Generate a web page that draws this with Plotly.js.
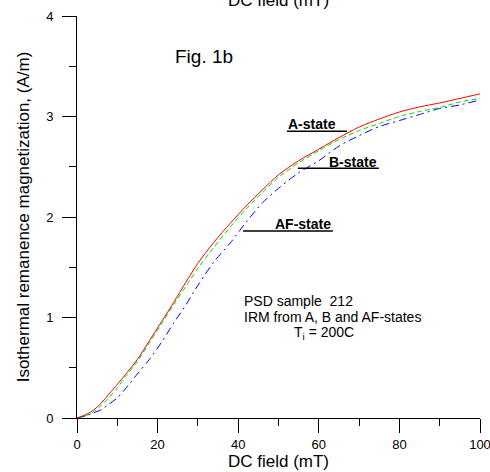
<!DOCTYPE html>
<html>
<head>
<meta charset="utf-8">
<script src="https://cdn.plot.ly/plotly-3.0.1.min.js"></script>
<style>html,body{margin:0;padding:0;background:#fff;}#chart{width:490px;height:472px;}</style>
</head>
<body>
<div id="chart"></div>
<script>
// DC field (mT)
const fieldA = [0, 2, 4, 6, 8, 10, 12, 15, 18, 21, 24, 27, 30, 34, 38, 42, 46, 50, 55, 60, 65, 70, 75, 80, 85, 90, 95, 100];
const irmA   = [0, 0.03, 0.075, 0.149, 0.24, 0.335, 0.431, 0.584, 0.771, 0.96, 1.15, 1.35, 1.54, 1.75, 1.936, 2.11, 2.27, 2.42, 2.56, 2.675, 2.79, 2.895, 2.975, 3.045, 3.095, 3.135, 3.18, 3.225];
const fieldB = [0, 2, 4, 6, 8, 10, 12, 15, 18, 21, 24, 27, 30, 34, 38, 42, 46, 50, 55, 60, 65, 70, 75, 80, 85, 90, 95, 100];
const irmB   = [0, 0.02, 0.06, 0.125, 0.205, 0.3, 0.41, 0.565, 0.75, 0.94, 1.13, 1.31, 1.49, 1.70, 1.9, 2.08, 2.245, 2.395, 2.54, 2.66, 2.77, 2.86, 2.93, 3.0, 3.05, 3.09, 3.145, 3.18];
const fieldAF = [0, 2, 4, 6, 8, 10, 12, 15, 18, 21, 24, 27, 30, 34, 38, 42, 46, 50, 55, 60, 65, 70, 75, 80, 85, 90, 95, 100];
const irmAF   = [0, 0.02, 0.05, 0.082, 0.14, 0.2, 0.29, 0.44, 0.585, 0.755, 0.945, 1.125, 1.32, 1.555, 1.74, 1.95, 2.14, 2.285, 2.44, 2.56, 2.705, 2.81, 2.9, 2.96, 3.02, 3.08, 3.115, 3.165];

const xTickVals = [0, 20, 40, 60, 80, 100];
const xTickText = ['0', '20', '40', '60', '80', '100'];
const yTickVals = [0, 1, 2, 3, 4];
const yTickText = ['0', '1', '2', '3', '4'];

const FONT = 'Arial, "Liberation Sans", sans-serif';

const traces = [
  {x: fieldAF, y: irmAF, mode: 'lines', name: 'AF-state',
   line: {color: '#0000ff', width: 1, dash: '8px,4px,2px,4px', shape: 'spline', smoothing: 0.8}},
  {x: fieldB, y: irmB, mode: 'lines', name: 'B-state',
   line: {color: '#00e000', width: 1, dash: '5px,3px', shape: 'spline', smoothing: 0.8}},
  {x: fieldA, y: irmA, mode: 'lines', name: 'A-state',
   line: {color: '#ff0000', width: 1, shape: 'spline', smoothing: 0.8}}
];

const layout = {
  width: 490, height: 472,
  margin: {l: 77, r: 10, t: 16, b: 54, pad: 0},
  paper_bgcolor: '#fff', plot_bgcolor: '#fff',
  showlegend: false,
  font: {family: FONT, color: '#000', size: 13},
  xaxis: {
    range: [0, 100], tickvals: xTickVals, ticktext: xTickText,
    ticks: 'outside', ticklen: 14, tickwidth: 1, tickcolor: '#000',
    minor: {dtick: 10, tick0: 0, ticks: 'outside', ticklen: 7, tickwidth: 1, tickcolor: '#000', showgrid: false},
    showline: true, linecolor: '#000', linewidth: 1, showgrid: false, zeroline: false,
    ticklabeloverflow: 'allow',
    tickfont: {size: 13, family: FONT},
    title: {text: 'DC field (mT)', font: {size: 17, family: FONT}, standoff: 4}
  },
  yaxis: {
    range: [0, 4], tickvals: yTickVals, ticktext: yTickText,
    ticks: 'outside', ticklen: 14, tickwidth: 1, tickcolor: '#000',
    minor: {dtick: 0.5, tick0: 0, ticks: 'outside', ticklen: 7, tickwidth: 1, tickcolor: '#000', showgrid: false},
    showline: true, linecolor: '#000', linewidth: 1, showgrid: false, zeroline: false,
    ticklabelstandoff: 6,
    tickfont: {size: 13, family: FONT},
    title: {text: 'Isothermal remanence magnetization, (A/m)', font: {size: 17, family: FONT}, standoff: 12}
  },
  annotations: [
    {xref: 'paper', yref: 'paper', x: 0.5, y: 1, xanchor: 'center', yanchor: 'middle', yshift: 16,
     text: 'DC field (mT)', showarrow: false, font: {size: 17, family: FONT}},
    {xref: 'x', yref: 'y', x: 23.8, y: 3.594, xanchor: 'left', yanchor: 'middle',
     text: 'Fig. 1b', showarrow: false, font: {size: 19, family: FONT}},
    {xref: 'x', yref: 'y', x: 58.3, y: 2.923, xanchor: 'center', yanchor: 'middle',
     text: '<b>A-state</b>', showarrow: false, font: {size: 14, family: FONT}},
    {xref: 'x', yref: 'y', x: 68.5, y: 2.546, xanchor: 'center', yanchor: 'middle',
     text: '<b>B-state</b>', showarrow: false, font: {size: 14, family: FONT}},
    {xref: 'x', yref: 'y', x: 56.0, y: 1.93, xanchor: 'center', yanchor: 'middle',
     text: '<b>AF-state</b>', showarrow: false, font: {size: 14, family: FONT}},
    {xref: 'x', yref: 'y', x: 40.9, y: 1.165, xanchor: 'left', yanchor: 'middle',
     text: 'PSD sample  212', showarrow: false, font: {size: 14, family: FONT}},
    {xref: 'x', yref: 'y', x: 40.9, y: 1.006, xanchor: 'left', yanchor: 'middle',
     text: 'IRM from A, B and AF-states', showarrow: false, font: {size: 14, family: FONT}},
    {xref: 'x', yref: 'y', x: 53.3, y: 0.847, xanchor: 'left', yanchor: 'middle',
     text: 'T<sub>i</sub> = 200C', showarrow: false, font: {size: 14, family: FONT}}
  ],
  shapes: [
    {type: 'line', xref: 'x', yref: 'y', x0: 52.1, x1: 67.0, y0: 2.854, y1: 2.854, line: {color: '#000', width: 1.5}},
    {type: 'line', xref: 'x', yref: 'y', x0: 54.8, x1: 74.9, y0: 2.486, y1: 2.486, line: {color: '#000', width: 1.5}},
    {type: 'line', xref: 'x', yref: 'y', x0: 41.2, x1: 63.5, y0: 1.860, y1: 1.860, line: {color: '#000', width: 1.5}}
  ]
};

Plotly.newPlot('chart', traces, layout, {displayModeBar: false, staticPlot: true});
</script>
</body>
</html>
